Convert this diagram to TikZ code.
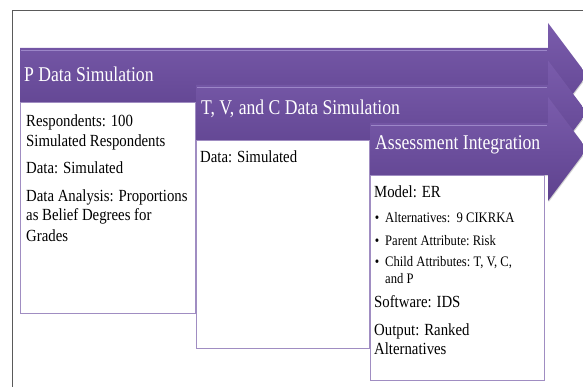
\documentclass[tikz,border=0pt]{standalone}
\usepackage{fontspec}
\setmainfont{Liberation Serif}[FakeStretch=0.87]
\newfontfamily\headfont{Liberation Serif}[FakeStretch=0.84]
\usepackage{tikz}
\usetikzlibrary{shadows}

\definecolor{stagetop}{HTML}{7A5CAC}
\definecolor{stagebot}{HTML}{5E428E}
\definecolor{stagelight}{HTML}{9C86C8}
\definecolor{boxline}{HTML}{A08DC2}
\definecolor{framegray}{HTML}{5A5A5A}

\begin{document}
\begin{tikzpicture}[%
x=1pt, y=-1pt,
stage/.style={top color=stagetop, bottom color=stagebot,
  drop shadow={shadow xshift=0.6pt, shadow yshift=-1.2pt, opacity=0.35}},
infobox/.style={fill=white, draw=boxline, line width=0.8pt,
  drop shadow={shadow xshift=0.6pt, shadow yshift=-1.2pt, opacity=0.3}},
headtext/.style={anchor=base west, inner sep=0pt, text=white,
  font=\headfont\fontsize{21}{24}\selectfont},
bodytext/.style={anchor=base west, inner sep=0pt,
  font=\fontsize{17}{20}\selectfont},
itemtext/.style={anchor=base west, inner sep=0pt,
  font=\fontsize{14.5}{17}\selectfont}
]
\useasboundingbox (0,0) rectangle (583,387);
\clip (0,0) rectangle (583,387);

% frame
\draw[framegray, line width=0.9pt] (12,387) -- (12,10) -- (583,10);

% stages: arrow, then its box
\foreach \x/\t/\b/\r/\bb in {20/48/102/195/313, 196/85/140/369/348, 370/123/175/544/380}{
  \pgfmathsetmacro\c{(\t+\b)/2}
  \path[stage] (\x,\t) -- (548,\t) -- (548,\c-52) -- (587,\c)
    -- (548,\c+52) -- (548,\b) -- (\x,\b) -- cycle;
  \draw[stagelight, line width=1.2pt] (\x+1,\t+2.5) -- (547,\t+2.5);
  \path[infobox] (\x,\b) rectangle (\r,\bb);
}

\node[headtext] (p-head) at (24,82) {P Data Simulation};
\node[headtext] (tvc-head) at (201,115) {T, V, and C Data Simulation};
\node[headtext] (ai-head) at (375,150) {Assessment Integration};

\foreach \n/\x/\y/\txt in {p1/26/127/{Respondents: 100},
  p2/26/147/{Simulated Respondents}, p3/26/174/{Data: Simulated},
  p4/26/202/{Data Analysis: Proportions}, p5/26/221/{as Belief Degrees for},
  p6/26/242/{Grades}, tvc1/200/163/{Data: Simulated},
  ai1/374/198/{Model: ER}, ai6/374/307/{Software: IDS},
  ai7/374/335/{Output: Ranked}, ai8/374/354/{Alternatives}}
  \node[bodytext] (\n) at (\x,\y) {\txt};

% bullet list
\foreach \n/\y/\txt in {ai2/223/{Alternatives:~~9 CIKRKA},
  ai3/245/{Parent Attribute:~Risk}, ai4/266/{Child Attributes:~T, V, C,}}
  \node[itemtext] (\n) at (385,\y) {\llap{\textbullet\hspace{6pt}}\txt};
\node[itemtext] (ai5) at (385,283) {and P};

\end{tikzpicture}
\end{document}
